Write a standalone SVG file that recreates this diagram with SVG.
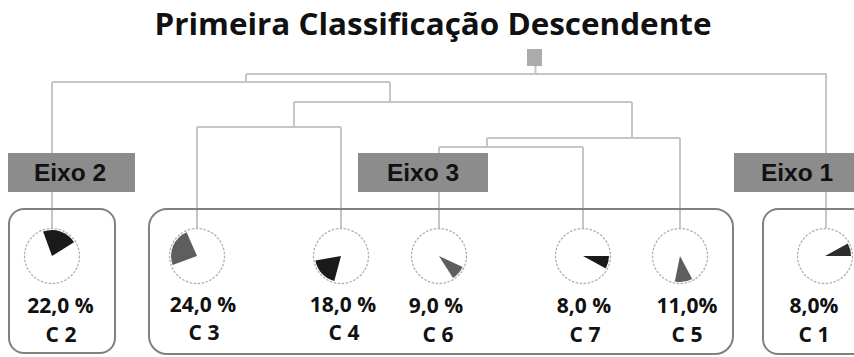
<svg xmlns="http://www.w3.org/2000/svg" width="854" height="357" viewBox="0 0 854 357">
<style>
.bg{fill:#ffffff}
.title{font-family:"Open Sans","Noto Sans",sans-serif;font-weight:bold;font-size:30.5px;fill:#111;text-anchor:middle}
.link{fill:none;stroke:#c6c6c6;stroke-width:2}
.axis rect{fill:#8c8c8c}
.axis text{font-family:"Liberation Sans",Arial,sans-serif;font-weight:bold;font-size:24.5px;fill:#111;text-anchor:middle}
.grp{fill:none;stroke:#808080;stroke-width:2}
.ring{fill:#fff;stroke:#b0b0b0;stroke-width:1.3;stroke-dasharray:2.5 1.5}
.lbl{font-family:"Open Sans","Noto Sans",sans-serif;font-weight:bold;font-size:21px;fill:#111;text-anchor:middle}
.dark{fill:#1a1a1a}
.mid{fill:#5e5e5e}
.dk2{fill:#2c2c2c}
</style>
<rect class="bg" x="0" y="0" width="854" height="357"/>
<text class="title" x="433" y="35" textLength="557" lengthAdjust="spacingAndGlyphs">Primeira Classificação Descendente</text>

<g id="connectors">
  <rect x="527" y="49" width="15" height="17" fill="#ababab"/>
  <path class="link" d="M535.5,66 V74 M246,74 H826 V160 M246,74 V82 M52,82 H390 M52,82 V228 M390,82 V102 M294,102 H632 M294,102 V127 M197,127 H341 M197,127 V228 M341,127 V228 M632,102 V138 M487,138 H680 M487,138 V147 M680,138 V228 M439,147 H583 M439,147 V228 M583,147 V228 M826,190 V228"/>
</g>

<g id="eixo2" class="axis"><rect x="8" y="153" width="127" height="39"/><text x="70" y="180.5">Eixo 2</text></g>
<g id="eixo3" class="axis"><rect x="358" y="153" width="130" height="39"/><text x="423" y="180.5">Eixo 3</text></g>
<g id="eixo1" class="axis"><rect x="734" y="153" width="130" height="39"/><text x="797" y="180.5">Eixo 1</text></g>

<g id="group-eixo2"><rect class="grp" x="9" y="209" width="106" height="144" rx="15"/></g>
<g id="group-eixo3"><rect class="grp" x="149" y="209" width="584" height="145" rx="18"/></g>
<g id="group-eixo1"><rect class="grp" x="763" y="209" width="110" height="145" rx="15"/></g>

<g id="c2">
  <circle class="ring" cx="52" cy="256" r="27.5"/>
  <path class="dark" d="M52,256 L43.1,231.6 A26,26 0 0 1 74,242.2 Z"/>
  <text class="lbl" x="60.5" y="312.5">22,0 %</text>
  <text class="lbl" x="61" y="341.5">C 2</text>
</g>
<g id="c3">
  <circle class="ring" cx="197" cy="256" r="27.5"/>
  <path class="mid" d="M197,256 L172.6,264.9 A26,26 0 0 1 186.6,232.2 Z"/>
  <text class="lbl" x="203" y="311.5">24,0 %</text>
  <text class="lbl" x="204" y="339.5">C 3</text>
</g>
<g id="c4">
  <circle class="ring" cx="341" cy="256" r="27.5"/>
  <path class="dark" d="M341,256 L334.3,281.1 A26,26 0 0 1 315.4,260.5 Z"/>
  <text class="lbl" x="343" y="311.5">18,0 %</text>
  <text class="lbl" x="344" y="339.5">C 4</text>
</g>
<g id="c6">
  <circle class="ring" cx="439" cy="256" r="27.5"/>
  <path class="mid" d="M439,256 L462.6,267 A26,26 0 0 1 453,277.9 Z"/>
  <text class="lbl" x="436" y="312.5">9,0 %</text>
  <text class="lbl" x="438" y="341.5">C 6</text>
</g>
<g id="c7">
  <circle class="ring" cx="583" cy="256" r="27.5"/>
  <path class="dark" d="M583,256 L609,256 A26,26 0 0 1 605.8,268.5 Z"/>
  <text class="lbl" x="584" y="313">8,0 %</text>
  <text class="lbl" x="585" y="341.5">C 7</text>
</g>
<g id="c5">
  <circle class="ring" cx="680" cy="256" r="27.5"/>
  <path class="mid" d="M680,256 L692.2,279 A26,26 0 0 1 674.8,281.5 Z"/>
  <text class="lbl" x="687" y="313">11,0%</text>
  <text class="lbl" x="687" y="341.5">C 5</text>
</g>
<g id="c1">
  <circle class="ring" cx="825" cy="256" r="27.5"/>
  <path class="dk2" d="M825,256 L847.8,243.5 A26,26 0 0 1 851,256 Z"/>
  <text class="lbl" x="814" y="313">8,0%</text>
  <text class="lbl" x="814" y="341.5">C 1</text>
</g>
</svg>
